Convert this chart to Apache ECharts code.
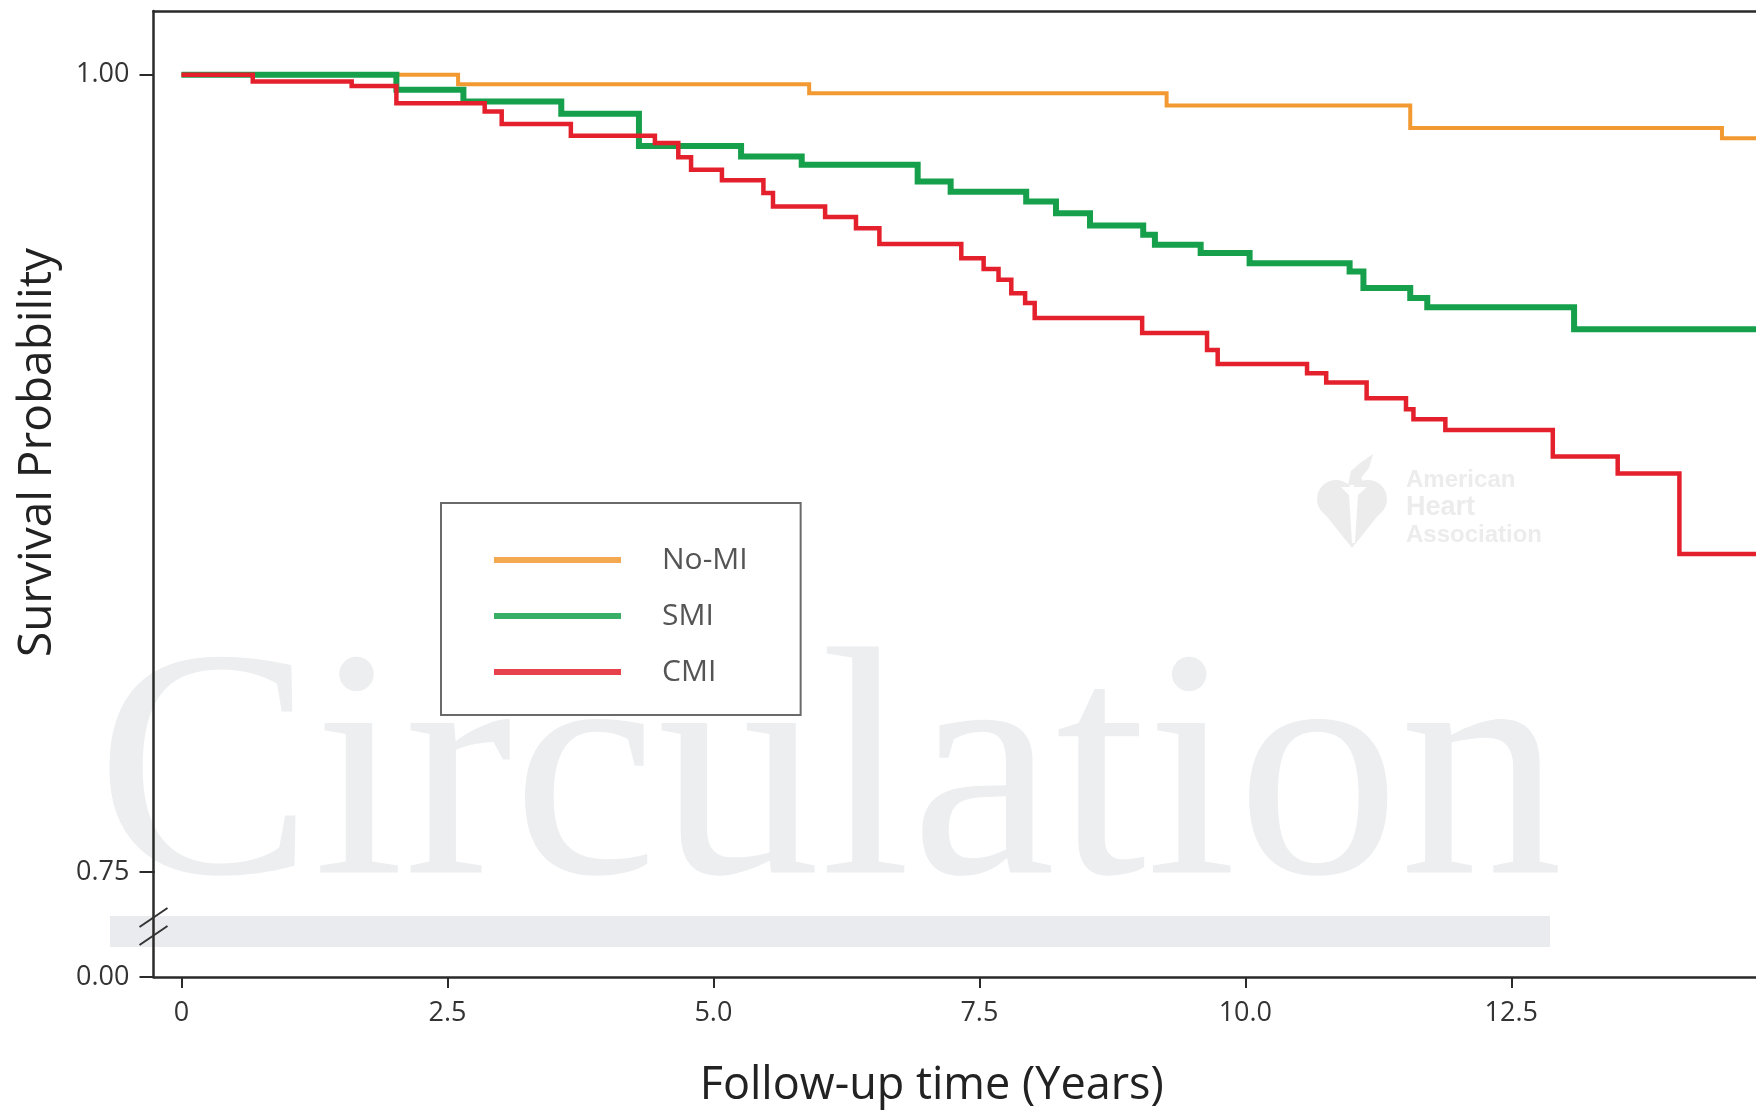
<!DOCTYPE html>
<html>
<head>
<meta charset="utf-8">
<script src="https://cdn.jsdelivr.net/npm/echarts@6/dist/echarts.min.js"></script>
<style>
html,body{margin:0;padding:0;background:#fff;}
#c{width:1756px;height:1111px;}
</style>
</head>
<body>
<div id="c"></div>
<script>
// ---------- data ----------
const seriesNames = ['No-MI', 'SMI', 'CMI'];
// [follow-up years, survival probability] at each step
const noMI = [[0,1.0],[2.60,0.9970],[5.90,0.9942],[9.26,0.9904],[11.55,0.9833],[14.48,0.9801],[14.80,0.9801]];
const smi = [[0,1.0],[2.02,0.9953],[2.65,0.9916],[3.57,0.9878],[4.30,0.9777],[5.26,0.9744],[5.83,0.9718],[6.92,0.9665],[7.23,0.9633],[7.94,0.9603],[8.22,0.9566],[8.54,0.9527],[9.04,0.9498],[9.15,0.9467],[9.58,0.9441],[10.04,0.9409],[10.98,0.9383],[11.11,0.9331],[11.55,0.9300],[11.71,0.9271],[13.09,0.9202],[14.80,0.9202]];
const cmi = [[0,1.0],[0.67,0.9979],[1.60,0.9965],[2.02,0.9911],[2.85,0.9885],[3.01,0.9846],[3.66,0.9809],[4.45,0.9786],[4.67,0.9741],[4.79,0.9702],[5.08,0.9669],[5.47,0.9629],[5.56,0.9587],[6.05,0.9554],[6.34,0.9519],[6.56,0.9469],[7.33,0.9425],[7.54,0.9391],[7.68,0.9357],[7.80,0.9315],[7.93,0.9284],[8.02,0.9237],[9.03,0.9190],[9.64,0.9137],[9.74,0.9093],[10.58,0.9064],[10.76,0.9035],[11.14,0.8986],[11.51,0.8951],[11.58,0.8920],[11.88,0.8886],[12.89,0.8803],[13.50,0.8750],[14.08,0.8497],[14.80,0.8497]];
const xTickValues = [0, 2.5, 5, 7.5, 10, 12.5];
const xTickLabels = ['0', '2.5', '5.0', '7.5', '10.0', '12.5'];
const yTickValues = [0.75, 1.0];
const yTickLabels = ['0.75', '1.00'];
const yLowTickValues = [0];
const yLowTickLabels = ['0.00'];
const xTitle = 'Follow-up time (Years)';
const yTitle = 'Survival Probability';

// ---------- styling ----------
const X_MIN = -0.263, X_MAX = 14.80;
const FONT = '"Open Sans", "Noto Sans", sans-serif';
const AX = '#2a2a2a';
const COLORS = ['#f29a31', '#16a04b', '#e3202c'];
const WIDTHS = [4, 6, 4.5];

function labelFor(values, labels) {
  return function (v) {
    for (let i = 0; i < values.length; i++) if (Math.abs(values[i] - v) < 1e-9) return labels[i];
    return '';
  };
}

const chart = echarts.init(document.getElementById('c'), null, {renderer: 'canvas'});

const axisLineStyle = {color: AX, width: 2.5};
const tickLabel = {fontSize: 27, color: '#333', fontFamily: FONT};

function watermark() {
  const wm = '#eceef0';
  const aha = '#ececec';
  return [
    {type: 'text', id: 'wmC', z: -10, style: {text: 'Circulation', x: 96, y: 787, fontSize: 326, fontFamily: '"Liberation Serif", serif', fill: wm, align: 'left', verticalAlign: 'middle'}},
    {type: 'rect', id: 'wmBand', z: -10, shape: {x: 110, y: 916, width: 1440, height: 31}, style: {fill: '#e9ebee'}},
    {type: 'circle', id: 'wmH1', z: -10, shape: {cx: 1336, cy: 499, r: 19}, style: {fill: aha}},
    {type: 'circle', id: 'wmH2', z: -10, shape: {cx: 1368, cy: 499, r: 19}, style: {fill: aha}},
    {type: 'polygon', id: 'wmH3', z: -10, shape: {points: [[1318.5,506],[1385.5,506],[1352,548]]}, style: {fill: aha}},
    {type: 'polygon', id: 'wmTorch', z: -9, shape: {points: [[1341,487],[1367,487],[1358,495],[1355,543],[1352,543],[1349,495]]}, style: {fill: '#ffffff'}},
    {type: 'polygon', id: 'wmFlame', z: -10, shape: {points: [[1348,485],[1351,471],[1360,463],[1373,454],[1369,468],[1361,478],[1366,485]]}, style: {fill: aha}},
    {type: 'text', id: 'wmA1', z: -10, style: {text: 'American', x: 1406, y: 492, fontSize: 24, fontWeight: 'bold', fontFamily: '"Liberation Sans", sans-serif', fill: aha, verticalAlign: 'bottom'}},
    {type: 'text', id: 'wmA2', z: -10, style: {text: 'Heart', x: 1406, y: 521, fontSize: 27, fontWeight: 'bold', fontFamily: '"Liberation Sans", sans-serif', fill: aha, verticalAlign: 'bottom'}},
    {type: 'text', id: 'wmA3', z: -10, style: {text: 'Association', x: 1406, y: 547, fontSize: 24, fontWeight: 'bold', fontFamily: '"Liberation Sans", sans-serif', fill: aha, verticalAlign: 'bottom'}}
  ];
}

const option = {
  animation: false,
  backgroundColor: '#ffffff',
  textStyle: {fontFamily: FONT},
  grid: [
    {left: 153.5, right: 0, top: 11, height: 861},
    {left: 153.5, right: 0, top: 872, height: 105}
  ],
  xAxis: [
    {
      gridIndex: 0, type: 'value', min: X_MIN, max: X_MAX, position: 'top',
      axisLine: {show: true, onZero: false, lineStyle: axisLineStyle},
      axisTick: {show: false}, axisLabel: {show: false}, splitLine: {show: false}
    },
    {
      gridIndex: 1, type: 'value', min: X_MIN, max: X_MAX, position: 'bottom',
      axisLine: {show: true, onZero: false, lineStyle: axisLineStyle},
      axisTick: {show: true, length: 11, customValues: xTickValues, lineStyle: {color: AX, width: 2}},
      axisLabel: Object.assign({show: true, customValues: xTickValues, formatter: labelFor(xTickValues, xTickLabels), margin: 23}, tickLabel),
      splitLine: {show: false},
      name: xTitle, nameLocation: 'middle', nameGap: 87,
      nameTextStyle: {fontSize: 45, color: '#222', fontFamily: FONT, padding: [0, 46, 0, 0]}
    }
  ],
  yAxis: [
    {
      gridIndex: 0, type: 'value', min: 0.75, max: 1.02,
      axisLine: {show: true, onZero: false, lineStyle: axisLineStyle},
      axisTick: {show: true, length: 14, customValues: yTickValues, lineStyle: {color: AX, width: 2}},
      axisLabel: Object.assign({show: true, customValues: yTickValues, formatter: labelFor(yTickValues, yTickLabels), margin: 24}, tickLabel),
      splitLine: {show: false},
      name: yTitle, nameLocation: 'middle', nameGap: 93, nameRotate: 90,
      nameTextStyle: {fontSize: 46, color: '#222', fontFamily: FONT, padding: [0, 22, 0, 0]}
    },
    {
      gridIndex: 1, type: 'value', min: 0, max: 1,
      axisLine: {show: true, onZero: false, lineStyle: axisLineStyle},
      axisTick: {show: true, length: 14, customValues: yLowTickValues, lineStyle: {color: AX, width: 2}},
      axisLabel: Object.assign({show: true, customValues: yLowTickValues, formatter: labelFor(yLowTickValues, yLowTickLabels), margin: 24}, tickLabel),
      splitLine: {show: false}
    }
  ],
  legend: {
    orient: 'vertical', left: 441, top: 503,
    padding: [37, 53, 23, 53],
    itemWidth: 127, itemHeight: 6, itemGap: 16,
    icon: 'rect',
    backgroundColor: '#ffffff', borderColor: '#6a6a6a', borderWidth: 2, borderRadius: 0,
    selectedMode: false,
    data: seriesNames.map(function (n) { return {name: n, itemStyle: {opacity: 0.85}}; }),
    textStyle: {fontSize: 30, lineHeight: 40, color: '#555', fontFamily: FONT, padding: [0, 0, 0, 36]}
  },
  series: [noMI, smi, cmi].map(function (d, i) {
    return {
      name: seriesNames[i], type: 'line', step: 'end', xAxisIndex: 0, yAxisIndex: 0,
      data: d, symbol: 'none', showSymbol: false, clip: true,
      lineStyle: {color: COLORS[i], width: WIDTHS[i], join: 'miter', cap: 'butt'},
      itemStyle: {color: COLORS[i]},
      z: 2 + i
    };
  }),
  graphic: {elements: watermark()}
};

chart.setOption(option);

// axis break marks on the y axis, placed from the lower grid's scale
const s1 = chart.convertToPixel({gridIndex: 1}, [X_MIN, 0.567]);
const s2 = chart.convertToPixel({gridIndex: 1}, [X_MIN, 0.395]);
const els = watermark();
[s1, s2].forEach(function (p, k) {
  els.push({type: 'line', id: 'brk' + k, z: 10, shape: {x1: p[0] - 14, y1: p[1] + 9.5, x2: p[0] + 14, y2: p[1] - 9.5}, style: {stroke: '#333', lineWidth: 2}});
});
chart.setOption({graphic: {elements: els}});
</script>
</body>
</html>
